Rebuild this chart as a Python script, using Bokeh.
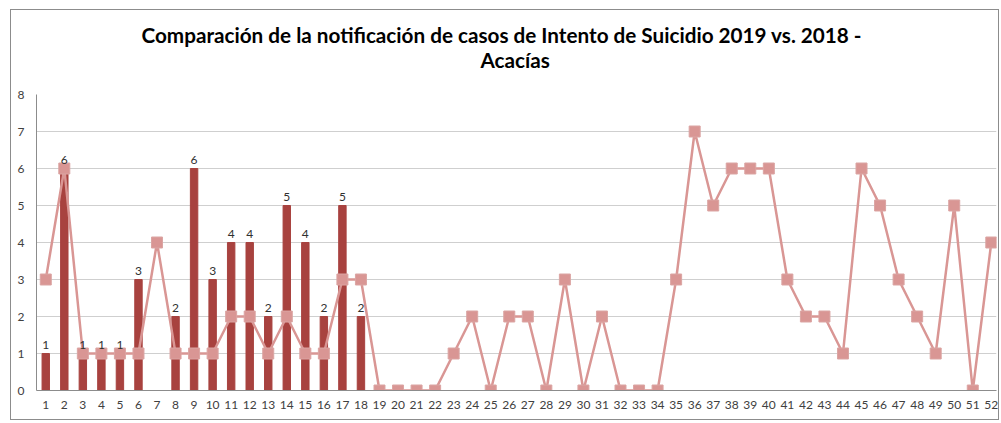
from bokeh.plotting import figure
from bokeh.models import FixedTicker, ColumnDataSource, Title
from bokeh.core.properties import value
from bokeh.embed import file_html
from bokeh.resources import INLINE

title_lines = ["Comparación de la notificación de casos de Intento de Suicidio 2019 vs. 2018 -", "Acacías"]
weeks = list(range(1, 53))
cases_2019 = [1, 6, 1, 1, 1, 3, None, 2, 6, 3, 4, 4, 2, 5, 4, 2, 5, 2]
cases_2018 = [3, 6, 1, 1, 1, 1, 4, 1, 1, 1, 2, 2, 1, 2, 1, 1, 3, 3, 0, 0,
              0, 0, 1, 2, 0, 2, 2, 0, 3, 0, 2, 0, 0, 0, 3, 7, 5, 6, 6, 6,
              3, 2, 2, 1, 6, 5, 3, 2, 1, 5, 0, 4]
y_ticks = list(range(0, 9))

bar_x = [w for w, v in zip(weeks, cases_2019) if v is not None]
bar_v = [v for v in cases_2019 if v is not None]
bars = ColumnDataSource(dict(x=bar_x, top=bar_v, lab=[str(v) for v in bar_v]))
line = ColumnDataSource(dict(x=weeks, y=cases_2018))

p = figure(width=989, height=411, output_backend="svg", toolbar_location=None,
           x_range=(0.5, 52.28), y_range=(0, 8),
           min_border_left=25, min_border_right=4, min_border_top=84, min_border_bottom=31)
p.margin = (9, 0, 0, 10)
p.styles = {"border": "1px solid #8c8c8c"}

p.outline_line_color = None
p.xgrid.grid_line_color = None
p.ygrid.grid_line_color = "#cfcfcf"
p.ygrid.grid_line_width = 1

p.xaxis.ticker = FixedTicker(ticks=weeks)
p.yaxis.ticker = FixedTicker(ticks=y_ticks)
for ax in (p.xaxis[0], p.yaxis[0]):
    ax.axis_line_color = "#8c8c8c"
    ax.major_tick_line_color = None
    ax.minor_tick_line_color = None
    ax.major_tick_out = 0
    ax.major_tick_in = 0
    ax.minor_tick_out = 0
    ax.minor_tick_in = 0
    ax.major_label_text_font = "Lato"
    ax.major_label_text_font_size = "12px"
    ax.major_label_text_color = "#404040"
p.xaxis.major_label_standoff = 10
p.yaxis.major_label_standoff = 12

p.vbar(x="x", top="top", width=0.4, source=bars, color="#a8423f")
p.line(x="x", y="y", source=line, line_color="#d99694", line_width=2.5)
p.scatter(x="x", y="y", source=line, marker="square", size=11,
          fill_color="#d99694", line_color="#dba5a3")
p.text(x="x", y="top", text="lab", source=bars, text_align="center",
       text_baseline="bottom", y_offset=-5, text_font=value("Lato"),
       text_font_size="12px", text_color="#303030")

for txt, off, so in [(title_lines[1], 444, 46), (title_lines[0], 105, -48)]:
    p.add_layout(Title(text=txt, align="left", offset=off, standoff=so,
                       text_font="Lato", text_font_size="20.7px",
                       text_font_style="bold", text_color="#000000"), "above")

open("out.html", "w").write(file_html(p, INLINE))
